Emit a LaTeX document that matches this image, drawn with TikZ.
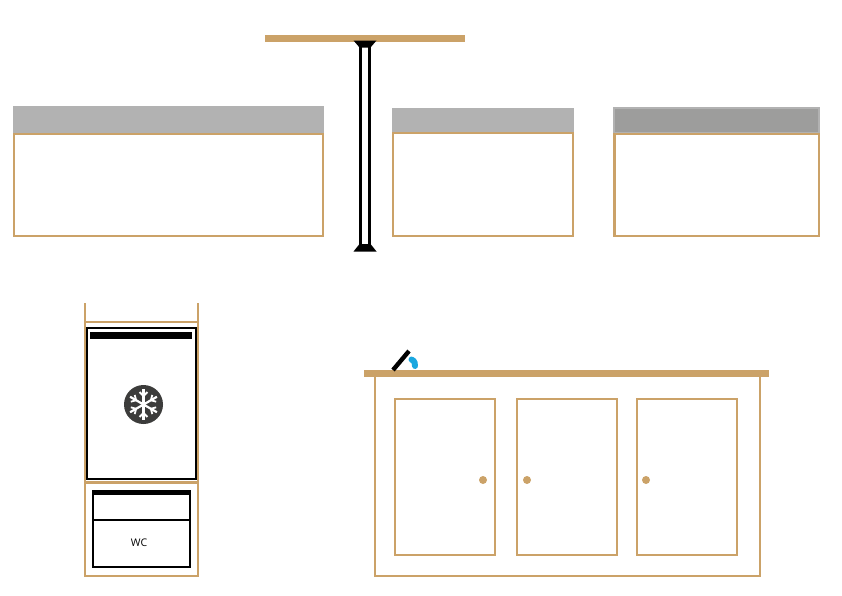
\documentclass[tikz,border=0pt]{standalone}
\usepackage{fontspec}
\setsansfont{Open Sans}
\usetikzlibrary{calc}
\definecolor{woodtan}{HTML}{CBA268}
\definecolor{bandgrey}{HTML}{B2B2B2}
\definecolor{banddark}{HTML}{9D9D9C}
\definecolor{iconblack}{HTML}{3C3C3B}
\definecolor{tapblue}{HTML}{1AA7E0}
\tikzset{
  woodline/.style={draw=woodtan,line width=2.2pt},
  woodfill/.style={fill=woodtan},
  greyband/.style={fill=bandgrey},
  blackline/.style={draw=black,line width=2.2pt},
  knob/.style={fill=woodtan},
  flake/.style={draw=white,line width=2.2pt}
}
\begin{document}
\begin{tikzpicture}[x=1pt,y=-1pt]
            \useasboundingbox (0,0) rectangle (842,595);

            % Wall units
            \fill[greyband] (13,106) rectangle (324,133);
            \draw[woodline,fill=white] (14,134) rectangle (323,236);

            \fill[greyband] (392,107.5) rectangle (573.5,133);
            \draw[woodline,fill=white] (393,133) rectangle (573,236);

            \draw[fill=banddark,draw=bandgrey,line width=2pt] (614,108) rectangle (819,133);
            \draw[woodline,fill=white] (614.5,134) rectangle (819,236);

            % Table and its pole
            \fill[woodfill] (264.5,34.5) rectangle (465,41.5);
            \draw[blackline] (360.5,46) -- (360.5,246);
            \draw[blackline] (369.5,46) -- (369.5,246);
            \fill[black] (353.5,40.5) -- (376.5,40.5) -- (370.5,47.5) -- (359.5,47.5) -- cycle;
            \fill[black] (359.5,244) -- (370.5,244) -- (376.5,251.5) -- (353.5,251.5) -- cycle;

            % Tall cabinet
            \draw[woodline] (85,303) -- (85,576) -- (198,576) -- (198,303);
            \draw[woodline] (85,322) -- (198,322);
            \draw[woodline] (85,482.5) -- (198,482.5);

            % Fridge
            \draw[blackline,fill=white] (87,328) rectangle (196,479);
            \fill[black] (90,332) rectangle (192,339);
            \fill[iconblack] (143.5,404.5) circle (19.5);
            \foreach \ang in {30,90,...,330}{
                \draw[flake] (143.5,404.5) -- ++(\ang:15.5);
                \draw[flake,line width=1.8pt] ($(143.5,404.5)+(\ang:8.5)$) -- ++(\ang+45:5.5);
                \draw[flake,line width=1.8pt] ($(143.5,404.5)+(\ang:8.5)$) -- ++(\ang-45:5.5);
            }

            % WC
            \draw[blackline,fill=white] (93,491) rectangle (190,567);
            \fill[black] (92,490) rectangle (191,494.5);
            \draw[blackline] (93,520) -- (190,520);
            \node[font=\sffamily\fontsize{10.5}{10.5}\selectfont] (wclabel) at (139,542.5) {WC};

            % Sink unit
            \draw[woodline] (375,377) -- (375,576) -- (760,576) -- (760,377);
            \fill[woodfill] (364,370) rectangle (768.5,377);
            \foreach \xpos in {395,517,637}{
                \draw[woodline] (\xpos,399) rectangle ++(100,156);
            }
            \foreach \xpos in {483,527,646}{
                \fill[knob] (\xpos,480) circle (4);
            }

            % Tap
            \draw[black,line width=4.4pt] (393,370) -- (409,351);
            \draw[tapblue,line width=6pt,line cap=round] (411.5,359.5) .. controls (415,361) and (415,364) .. (415,366);
        \end{tikzpicture}
\end{document}
